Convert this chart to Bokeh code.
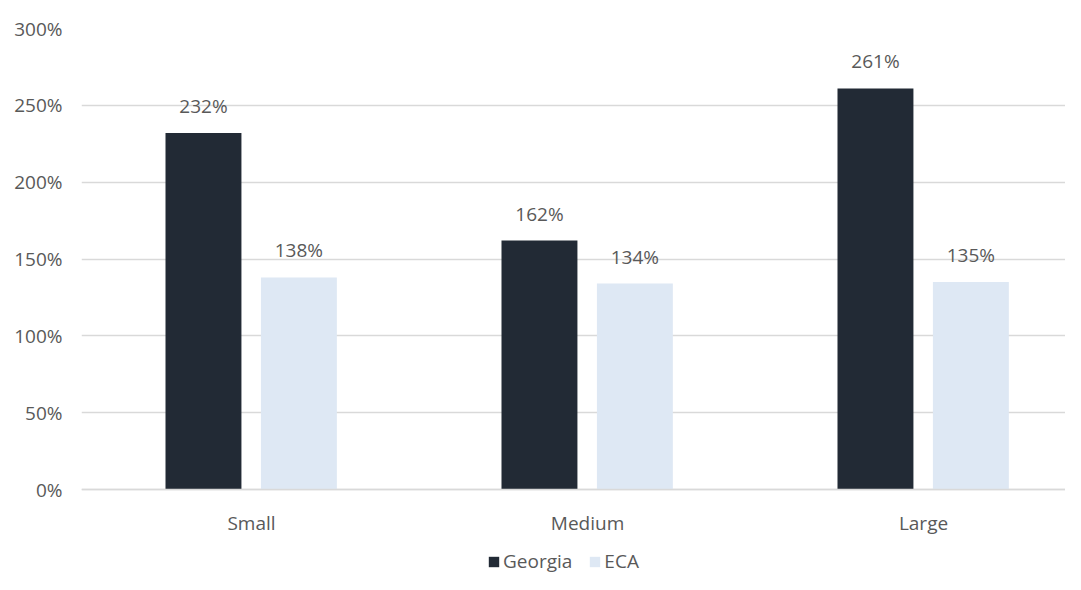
from bokeh.plotting import figure
from bokeh.models import ColumnDataSource, FixedTicker, Legend, LegendItem, PrintfTickFormatter, Range1d
from bokeh.transform import dodge
from bokeh.core.properties import value
from bokeh.embed import file_html
from bokeh.resources import INLINE

categories = ["Small", "Medium", "Large"]
georgia = [232, 162, 261]
eca = [138, 134, 135]
y_ticks = [0, 50, 100, 150, 200, 250, 300]

FONT = "Open Sans"
TXT = "#595959"
DARK = "#222a35"
LIGHT = "#dee8f4"
FS = "19px"

xs = list(range(len(categories)))
src = ColumnDataSource(dict(
    x=xs, georgia=georgia, eca=eca,
    g_lab=[f"{v}%" for v in georgia],
    e_lab=[f"{v}%" for v in eca],
))

# frame spans the whole lower area so the legend can sit inside it
p = figure(width=1065, height=574, output_backend="svg", toolbar_location=None,
           x_range=Range1d(-0.506, 2.4226), y_range=Range1d(-55.3, 300),
           min_border_left=81, min_border_right=0, min_border_top=28, min_border_bottom=0)
p.outline_line_color = None
p.background_fill_color = "white"
p.border_fill_color = "white"

w = 0.226
rg = p.vbar(x=dodge("x", -0.143), top="georgia", width=w, source=src, fill_color=DARK, line_color=None)
re = p.vbar(x=dodge("x", 0.141), top="eca", width=w, source=src, fill_color=LIGHT, line_color=None)

for col, lab, off in (("georgia", "g_lab", -0.143), ("eca", "e_lab", 0.141)):
    p.text(x=dodge("x", off), y=col, text=lab, source=src, text_align="center",
           text_baseline="middle", y_offset=-27, text_font=value(FONT),
           text_font_size=FS, text_color=TXT)

# axes
p.xaxis.fixed_location = 0
p.xaxis.ticker = FixedTicker(ticks=xs)
p.xaxis.major_label_overrides = {i: c for i, c in enumerate(categories)}
p.xaxis.major_tick_line_color = None
p.xaxis.minor_tick_line_color = None
p.xaxis.axis_line_color = "#d9d9d9"
p.xaxis.axis_line_width = 1.5
p.xaxis.major_label_standoff = 14
p.xaxis.major_label_text_font = FONT
p.xaxis.major_label_text_font_size = FS
p.xaxis.major_label_text_color = TXT

p.yaxis.ticker = FixedTicker(ticks=y_ticks)
p.yaxis.formatter = PrintfTickFormatter(format="%d%%")
p.yaxis.major_tick_line_color = None
p.yaxis.minor_tick_line_color = None
p.yaxis.axis_line_color = None
p.yaxis.major_label_standoff = 13
p.yaxis.major_label_text_font = FONT
p.yaxis.major_label_text_font_size = FS
p.yaxis.major_label_text_color = TXT

p.xgrid.grid_line_color = None
p.ygrid.ticker = FixedTicker(ticks=y_ticks)
p.ygrid.grid_line_color = "#d9d9d9"
p.ygrid.grid_line_width = 1.5

legend = Legend(items=[LegendItem(label="Georgia", renderers=[rg]),
                       LegendItem(label="ECA", renderers=[re])],
                orientation="horizontal", location=(406, 0))
legend.padding = 0
legend.margin = 0
legend.border_line_color = None
legend.background_fill_alpha = 0
legend.glyph_width = 13
legend.glyph_height = 13
legend.label_standoff = 3
legend.spacing = 16
legend.label_height = 16
legend.label_text_font = FONT
legend.label_text_font_size = FS
legend.label_text_color = TXT
legend.label_text_baseline = "middle"
p.add_layout(legend, "center")

open("out.html", "w").write(file_html(p, INLINE))
